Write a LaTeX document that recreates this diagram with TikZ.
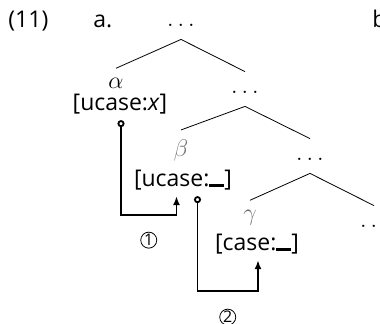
\documentclass[tikz,border=0pt]{standalone}
\usepackage{fontspec}
\setmainfont{Open Sans}
\usetikzlibrary{arrows.meta}

% empty value slot
\newcommand{\blank}{\rule[-0.6pt]{0.65em}{1.5pt}}

\tikzset{
  every node/.style={font=\fontsize{11.5}{14}\selectfont},
  dots/.style={inner sep=0pt, text height=10.5pt, text depth=6.5pt, anchor=base},
  cat/.style={inner sep=4.5pt, anchor=base},
  catgrey/.style={cat, text=black!55},
  feat/.style={inner sep=0pt, outer ysep=3.25pt, anchor=base},
  branch/.style={line width=0.4pt},
  agree/.style={line width=0.9pt, {Circle[open,length=3.5pt,width=3.5pt]}-{Latex[length=4.5pt,width=3.5pt]}},
  num/.style={circle, draw, line width=0.4pt, inner sep=0pt, minimum size=8pt,
    font=\fontsize{8}{8}\selectfont}
}

\begin{document}
\begin{tikzpicture}[x=0.5pt, y=-0.5pt]
\useasboundingbox (0,0) rectangle (380,323);

\node[anchor=base west, inner sep=0pt] (exno) at (8,27) {(11)};
\node[anchor=base west, inner sep=0pt] (suba) at (93,27) {a.};
\node[anchor=base west, inner sep=0pt] (subb) at (372,27) {b.};

% right branching spine
\node[dots] (d0) at (181,26) {$\ldots$};
\node[dots] (d1) at (245,93) {$\ldots$};
\node[dots] (d2) at (310,160) {$\ldots$};
\node[dots] (d3) at (374,227) {$\ldots$};

\node[cat] (alpha) at (116,88) {$\alpha$};
\node[catgrey] (beta) at (181,156) {$\beta$};
\node[catgrey] (gamma) at (250,220) {$\gamma$};

\node[feat] (f1) at (120,110) {[ucase:\textit{x}]};
\node[feat] (f2) at (183,186) {[ucase:\blank]};
\node[feat] (f3) at (257,250) {[case:\blank]};

\foreach \m/\l/\r in {d0/alpha/d1, d1/beta/d2, d2/gamma/d3} {
  \draw[branch] (\m.south) -- (\l.north);
  \draw[branch] (\m.south) -- (\r.north);
}

% valuation paths
\draw[agree] ([xshift=0.5pt]f1.south) -- ++(0,95)
  -| node[pos=0.25, yshift=-12.5pt, num] (n1) {1} ([xshift=-3.25pt]f2.south);
\draw[agree] ([xshift=7.25pt]f2.south) -- ++(0,95)
  -| node[pos=0.25, yshift=-13pt, num] (n2) {2} ([xshift=0.5pt]f3.south);
\end{tikzpicture}
\end{document}
